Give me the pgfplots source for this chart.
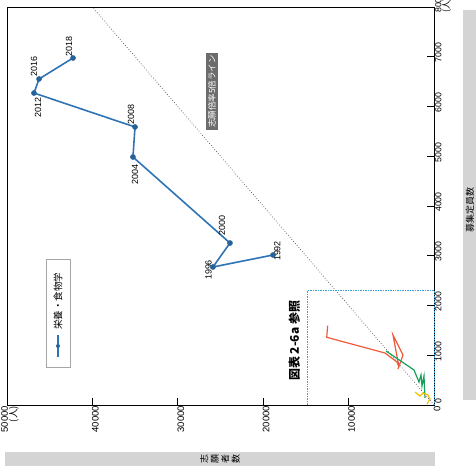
\documentclass[border=0pt]{standalone}
\usepackage{pgfplots}
\pgfplotsset{compat=1.18}
\usepackage{fontspec}
\setmainfont{Liberation Sans}
\newfontfamily\jp{Noto Sans CJK JP}
\definecolor{cblue}{HTML}{2E74B5}
\definecolor{cred}{HTML}{EE5A3A}
\definecolor{cgreen}{HTML}{17A05A}
\definecolor{cyellow}{HTML}{F5C000}
\definecolor{cbox}{HTML}{3AA0D8}
\definecolor{barg}{HTML}{D4D4D4}
\begin{document}
\begin{tikzpicture}
\begin{axis}[
  scale only axis, width=427bp, height=398bp,
  at={(0bp,0bp)}, anchor=south west,
  x dir=reverse,
  xmin=0, xmax=50000, ymin=0, ymax=8000,
  scaled x ticks=false, scaled y ticks=false,
  axis line style={black, line width=0.6pt},
  xtick={0,10000,20000,30000,40000,50000},
  xticklabels={0,10000,20000,30000,40000,{50000\\{\jp(人)}}},
  ytick={0,1000,2000,3000,4000,5000,6000,7000,8000},
  yticklabels={0,1000,2000,3000,4000,5000,6000,7000,{8000\\{\jp(人)}}},
  xtick pos=lower, ytick pos=upper,
  tick align=inside, major tick length=7bp,
  tick style={black, line width=0.6pt},
  xticklabel style={rotate=90, anchor=east, align=right, font=\fontsize{9.5}{9}\selectfont, inner sep=1pt, yshift=-3bp},
  yticklabel style={rotate=90, anchor=north, align=left, font=\fontsize{8.8}{8}\selectfont, inner sep=1pt, xshift=4bp},
  clip=false,
]
\addplot[black!70, dotted, line width=0.7pt] coordinates {(0,0) (40000,8000)};
\addplot[cbox, dash pattern=on 1.5pt off 1pt, line width=0.8pt] coordinates {(0,0) (0,2300) (14800,2300) (14800,0)};
\addplot[cblue, line width=1.6pt, mark=*, mark size=2pt, mark options={fill=cblue!85!black, draw=cblue!85!black}] coordinates {
(18850,3015) (25880,2774) (23890,3256) (35250,4985) (35010,5588) (46840,6271) (46250,6553) (42270,6975)};
\addplot[cred, line width=1.2pt] coordinates {
(12450,1594) (12560,1361) (5738,1045) (4333,864) (4098,764) (4801,1407) (3630,1005) (4215,724)};
\addplot[cgreen, line width=1.2pt] coordinates {
(5620,1085) (2342,704) (1756,462) (1522,603) (1405,382) (1171,583) (1054,141)};
\addplot[cyellow, line width=1.2pt] coordinates {
(2225,261) (1639,181) (1288,241) (703,201) (468,121) (820,20)};
% year labels
\begin{scope}[every node/.style={rotate=90, font=\fontsize{9}{9}\selectfont, inner sep=1pt}]
\node[anchor=north] at (axis cs:18850,3015) [xshift=4bp] {1992};
\node[anchor=south] at (axis cs:25880,2774) [xshift=-3bp] {1996};
\node[anchor=west] at (axis cs:23890,3256) [yshift=8bp, xshift=6bp] {2000};
\node[anchor=east] at (axis cs:35250,4985) [yshift=-2bp, xshift=-6bp] {2004};
\node[anchor=west] at (axis cs:35010,5588) [yshift=4bp, xshift=1bp] {2008};
\node[anchor=east] at (axis cs:46840,6271) [yshift=-4bp, xshift=-3bp] {2012};
\node[anchor=west] at (axis cs:46250,6553) [yshift=5bp, xshift=1bp] {2016};
\node[anchor=west] at (axis cs:42270,6975) [yshift=4bp] {2018};
\end{scope}
\node[rotate=90, fill=gray!85!black, text=white, font=\jp\fontsize{8.5}{9}\selectfont, inner sep=2pt] at (axis cs:26000,6300) {志願倍率5倍ライン};
\node[rotate=90, font=\jp\bfseries\fontsize{12}{12}\selectfont, inner sep=1pt] at (axis cs:16350,1290) {図表 2-6a 参照};
\end{axis}
% legend
\draw[gray!70, line width=0.6pt] (39bp,38bp) rectangle (63bp,146bp);
\draw[cblue, line width=1.6pt] (51bp,48bp) -- (51bp,70bp);
\fill[cblue!85!black] (51bp,59bp) circle (2bp);
\node[rotate=90, anchor=west, font=\jp\fontsize{9.5}{10}\selectfont, inner sep=0pt] at (51bp,75bp) {栄養・食物学};
% axis title bars
\fill[barg] (-2bp,-47bp) rectangle (428bp,-61bp);
\node[rotate=90, align=center, font=\jp\fontsize{9}{10.5}\selectfont, inner sep=0pt] at (213bp,-54bp) {志\\願\\者\\数};
\fill[barg] (456bp,5bp) rectangle (472bp,395bp);
\node[rotate=90, font=\jp\fontsize{9}{10}\selectfont, inner sep=0pt] at (463bp,195bp) {募集定員数};
\pgfresetboundingbox
\path (-7bp,-65bp) rectangle (469bp,405bp);
\end{tikzpicture}
\end{document}
